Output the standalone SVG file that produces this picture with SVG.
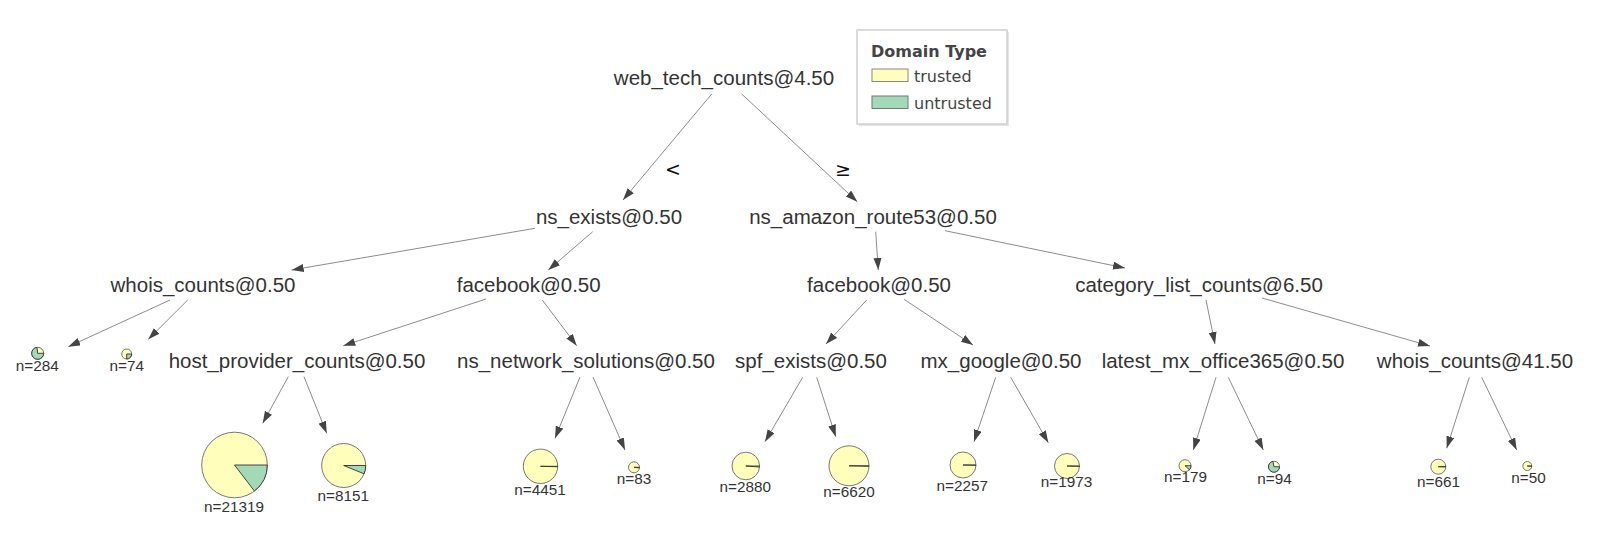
<svg xmlns="http://www.w3.org/2000/svg" width="1599" height="534" viewBox="0 0 1599 534">
<style>
.node{font-family:"Liberation Sans",Arial,sans-serif;font-size:20.5px;fill:#333;text-anchor:middle}
.leaf{font-family:"Liberation Sans",Arial,sans-serif;font-size:15.3px;fill:#333;text-anchor:middle}
.elab{font-family:"DejaVu Sans",sans-serif;font-size:19px;fill:#111;text-anchor:middle}
.edge{stroke:#6e6e6e;stroke-width:0.8;fill:none;marker-end:url(#arr)}
.tr{fill:#ffffbb;stroke:#555;stroke-width:0.8}
.un{fill:#a3d9b7;stroke:#333;stroke-width:0.9}
.lg{font-family:"DejaVu Sans",sans-serif;font-size:16px;fill:#444}
</style>
<defs>
<marker id="arr" markerUnits="userSpaceOnUse" markerWidth="13" markerHeight="9" refX="12" refY="4" orient="auto">
<path d="M0,0 L12,4 L0,8 z" fill="#444"/>
</marker>
</defs>
<rect width="1599" height="534" fill="#fff"/>

<g id="connectors">
<line class="edge" x1="711.7" y1="94" x2="623" y2="200"/>
<line class="edge" x1="741.7" y1="94" x2="857.3" y2="201.7"/>
<line class="edge" x1="535" y1="228.3" x2="291.7" y2="270"/>
<line class="edge" x1="592.7" y1="231.7" x2="548.3" y2="270"/>
<line class="edge" x1="875.7" y1="231.7" x2="878.3" y2="270"/>
<line class="edge" x1="945" y1="230.7" x2="1125" y2="268"/>
<line class="edge" x1="170" y1="300" x2="68.3" y2="346.7"/>
<line class="edge" x1="187.7" y1="300" x2="148.3" y2="339.3"/>
<line class="edge" x1="486" y1="299" x2="343.3" y2="345.7"/>
<line class="edge" x1="542.3" y1="300" x2="576.7" y2="345.7"/>
<line class="edge" x1="866.7" y1="300" x2="826" y2="344"/>
<line class="edge" x1="904" y1="299.3" x2="973" y2="345"/>
<line class="edge" x1="1206" y1="300" x2="1215" y2="344"/>
<line class="edge" x1="1262" y1="298" x2="1430" y2="346"/>
<line class="edge" x1="288.3" y1="376.7" x2="262.7" y2="423.3"/>
<line class="edge" x1="304" y1="376.7" x2="326.7" y2="433.3"/>
<line class="edge" x1="580" y1="377" x2="555" y2="438.3"/>
<line class="edge" x1="593" y1="377" x2="625" y2="450"/>
<line class="edge" x1="802.7" y1="377.3" x2="765" y2="441.7"/>
<line class="edge" x1="816.7" y1="377.3" x2="835.7" y2="436.7"/>
<line class="edge" x1="995.7" y1="377.3" x2="974" y2="441.7"/>
<line class="edge" x1="1010.7" y1="377.3" x2="1048.3" y2="442.7"/>
<line class="edge" x1="1216" y1="377.3" x2="1193.3" y2="450"/>
<line class="edge" x1="1228.3" y1="377.3" x2="1263.3" y2="450"/>
<line class="edge" x1="1469.3" y1="377.3" x2="1446.7" y2="448.3"/>
<line class="edge" x1="1481.7" y1="377.3" x2="1516.7" y2="450"/>
<text class="elab" x="673" y="176">&lt;</text>
<text class="elab" x="843" y="176">≥</text>
</g>

<g id="n_root"><text class="node" x="724" y="85">web_tech_counts@4.50</text></g>
<g id="n_ns_exists"><text class="node" x="609" y="224">ns_exists@0.50</text></g>
<g id="n_ns_amazon"><text class="node" x="873" y="224">ns_amazon_route53@0.50</text></g>
<g id="n_whois1"><text class="node" x="203" y="292">whois_counts@0.50</text></g>
<g id="n_facebook1"><text class="node" x="528.7" y="292">facebook@0.50</text></g>
<g id="n_facebook2"><text class="node" x="879" y="292">facebook@0.50</text></g>
<g id="n_category"><text class="node" x="1199" y="292">category_list_counts@6.50</text></g>
<g id="n_host"><text class="node" x="297" y="368">host_provider_counts@0.50</text></g>
<g id="n_ns_network"><text class="node" x="586" y="368">ns_network_solutions@0.50</text></g>
<g id="n_spf"><text class="node" x="811" y="368">spf_exists@0.50</text></g>
<g id="n_mx_google"><text class="node" x="1001" y="368">mx_google@0.50</text></g>
<g id="n_latest"><text class="node" x="1223" y="368">latest_mx_office365@0.50</text></g>
<g id="n_whois2"><text class="node" x="1475" y="368">whois_counts@41.50</text></g>

<g id="leaf_284"><circle class="tr" cx="37.7" cy="353.3" r="6"/><path class="un" d="M37.7,353.3 L43.7,353.3 A6,6 0 1 1 36.95,347.35 Z"/><text class="leaf" x="37.2" y="371">n=284</text></g>
<g id="leaf_74"><circle class="tr" cx="126.7" cy="354" r="5"/><path class="un" d="M126.7,354 L131.7,354 A5,5 0 0 1 126.7,359 Z"/><text class="leaf" x="126.8" y="371">n=74</text></g>
<g id="leaf_21319"><circle class="tr" cx="234.5" cy="465" r="32.8"/><path class="un" d="M234.5,465 L267.3,465 A32.8,32.8 0 0 1 254.4,491 Z"/><text class="leaf" x="234" y="511.5">n=21319</text></g>
<g id="leaf_8151"><circle class="tr" cx="343.7" cy="465.5" r="22"/><path class="un" d="M343.7,465.5 L365.7,465.5 A22,22 0 0 1 364.05,473.8 Z"/><text class="leaf" x="343.3" y="500.5">n=8151</text></g>
<g id="leaf_4451"><circle class="tr" cx="540.5" cy="466.3" r="17.2"/><path class="un" d="M540.5,466.3 L557.7,466.3 A17.2,17.2 0 0 1 557.69,466.72 Z"/><text class="leaf" x="540" y="494.5">n=4451</text></g>
<g id="leaf_83"><circle class="tr" cx="634" cy="467.3" r="5.5"/><path class="un" d="M634,467.3 L639.5,467.3 A5.5,5.5 0 0 1 639.46,467.97 Z"/><text class="leaf" x="634" y="484">n=83</text></g>
<g id="leaf_2880"><circle class="tr" cx="745.8" cy="466" r="13.8"/><path class="un" d="M745.8,466 L759.6,466 A13.8,13.8 0 0 1 759.56,467.04 Z"/><text class="leaf" x="745.3" y="492.2">n=2880</text></g>
<g id="leaf_6620"><circle class="tr" cx="849" cy="465.8" r="20"/><path class="un" d="M849,465.8 L869,465.8 A20,20 0 0 1 868.99,466.29 Z"/><text class="leaf" x="849" y="497.2">n=6620</text></g>
<g id="leaf_2257"><circle class="tr" cx="963" cy="465" r="13"/><path class="un" d="M963,465 L976,465 A13,13 0 0 1 975.99,465.27 Z"/><text class="leaf" x="962.3" y="490.5">n=2257</text></g>
<g id="leaf_1973"><circle class="tr" cx="1067" cy="466" r="12.5"/><path class="un" d="M1067,466 L1079.5,466 A12.5,12.5 0 0 1 1079.49,466.3 Z"/><text class="leaf" x="1066.5" y="487.2">n=1973</text></g>
<g id="leaf_179"><circle class="tr" cx="1185" cy="465.7" r="6"/><path class="un" d="M1185,465.7 L1191,465.7 A6,6 0 0 1 1189.39,469.79 Z"/><text class="leaf" x="1185.5" y="482.2">n=179</text></g>
<g id="leaf_94"><circle class="tr" cx="1274" cy="466.7" r="5.5"/><path class="un" d="M1274,466.7 L1279.5,466.7 A5.5,5.5 0 1 1 1272.95,461.3 Z"/><text class="leaf" x="1274.5" y="483.8">n=94</text></g>
<g id="leaf_661"><circle class="tr" cx="1438.3" cy="466.7" r="7.5"/><path class="un" d="M1438.3,466.7 L1445.8,466.7 A7.5,7.5 0 0 1 1445.79,466.84 Z"/><text class="leaf" x="1438.5" y="487.2">n=661</text></g>
<g id="leaf_50"><circle class="tr" cx="1527.3" cy="466" r="4.5"/><path class="un" d="M1527.3,466 L1531.8,466 A4.5,4.5 0 0 1 1531.79,466.28 Z"/><text class="leaf" x="1528.5" y="483.2">n=50</text></g>

<g id="legend">
<rect x="859" y="32" width="150" height="94" fill="#e6e6e6"/>
<rect x="857" y="30" width="150" height="94" fill="#fff" stroke="#cfcfcf" stroke-width="1.5"/>
<text class="lg" x="871" y="57" font-weight="bold">Domain Type</text>
<rect x="872" y="69" width="36" height="12.5" fill="#ffffbb" stroke="#888" stroke-width="1"/>
<text class="lg" x="914" y="82">trusted</text>
<rect x="872" y="96" width="36" height="12.5" fill="#a3d9b7" stroke="#777" stroke-width="1"/>
<text class="lg" x="914" y="108.5">untrusted</text>
</g>
</svg>
